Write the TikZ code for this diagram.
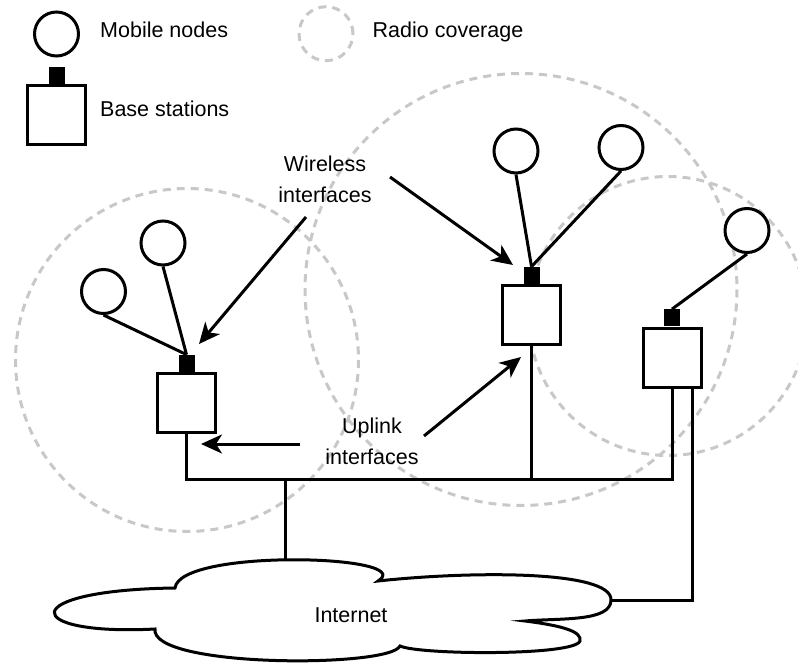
\documentclass[tikz,border=0pt]{standalone}
\usepackage{fontspec}
\setmainfont{Liberation Sans}
\usetikzlibrary{arrows.meta}
\definecolor{covgray}{RGB}{200,200,200}
\begin{document}
\begin{tikzpicture}[x=1pt,y=-1pt,
  mobile/.style={circle,draw,line width=3pt,minimum size=44pt,inner sep=0pt,fill=white},
  station/.style={rectangle,draw,line width=3pt,minimum width=58pt,minimum height=59pt,inner sep=0pt,fill=white},
  antenna/.style={rectangle,fill=black,minimum width=16pt,minimum height=17pt,inner sep=0pt},
  coverage/.style={draw=covgray,line width=3pt,dash pattern=on 8pt off 6pt},
  label/.style={inner sep=0pt,font=\fontsize{21.5}{26}\selectfont},
  pointer/.style={line width=3pt,-{Stealth[length=21pt,width=19pt,inset=6pt]}},
  wire/.style={line width=3pt},
]
\clip (0,0) rectangle (798,666);

% radio coverage areas
\draw[coverage] (187,360) circle[radius=171.5];
\draw[coverage] (521,289.5) circle[radius=216];
\draw[coverage] (668,316) circle[radius=139.5];

% legend
\node[mobile] (legmob) at (56.5,34) {};
\node[label,anchor=base west] (legmobtxt) at (100,37.7) {Mobile nodes};
\node[coverage,circle,minimum size=54pt,inner sep=0pt] (legcov) at (326,33.7) {};
\node[label,anchor=base west] (legcovtxt) at (372.5,37.5) {Radio coverage};
\node[station] (legbs) at (56.5,115.5) {};
\node[antenna,anchor=south] (legant) at (legbs.north) {};
\node[label,anchor=base west] (legbstxt) at (100,117) {Base stations};

% base stations
\node[station] (bsL) at (186.5,403) {};
\node[antenna,anchor=south] (antL) at (bsL.north) {};
\node[station] (bsM) at (531.5,315) {};
\node[antenna,anchor=south] (antM) at (bsM.north) {};
\node[station] (bsR) at (672,357.5) {};
\node[antenna,anchor=south] (antR) at (bsR.north) {};

% mobile nodes
\node[mobile] (mA) at (103.5,291.5) {};
\node[mobile] (mB) at (163,243) {};
\node[mobile] (m1) at (516,151) {};
\node[mobile] (m2) at (621,147.5) {};
\node[mobile] (m3) at (747,230.5) {};

% radio links
\draw[wire] (mA.south) -- (antL.north);
\draw[wire] (mB.south) -- (antL.north);
\draw[wire] (m1.south) -- (antM.north);
\draw[wire] (m2.south) -- (antM.north);
\draw[wire] (m3.south) -- (antR.north);

% Internet cloud
\coordinate (ctop) at (285,559);
\coordinate (cright) at (611,600);
\draw[wire,fill=white] (175,588)
  .. controls (180,548) and (420,555) .. (378,581)
  .. controls (470,571) and (612,570) .. (611,600)
  .. controls (611,622) and (560,618) .. (525,621)
  .. controls (565,626) and (582,632) .. (580,641)
  .. controls (575,656) and (420,655) .. (400,646)
  .. controls (390,668) and (150,668) .. (155,629)
  .. controls (20,636) and (15,590) .. (175,588) -- cycle;
\node[label,anchor=base] (inet) at (351,622) {Internet};

% wired uplinks
\coordinate (bus) at (400,479);
\draw[wire] (bsL.south) |- (bus) -| (bsR.south);
\draw[wire] (bsM.south) -- (bsM.south |- bus);
\draw[wire] (ctop |- bus) -- (ctop);
\draw[wire] ([xshift=20pt]bsR.south) |- (cright);

% annotations
\node[label,anchor=base] (wl1) at (325,171.7) {Wireless};
\node[label,anchor=base] (wl2) at (325,202) {interfaces};
\node[label,anchor=base] (ul1) at (372,433) {Uplink};
\node[label,anchor=base] (ul2) at (372,464) {interfaces};

\coordinate (w1s) at (306,217);
\coordinate (w1e) at (199,344);
\coordinate (w2s) at (390,177);
\coordinate (w2e) at (513,265);
\coordinate (u1s) at (300,444);
\coordinate (u1e) at (201,444);
\coordinate (u2s) at (424,436);
\coordinate (u2e) at (521,357);
\draw[pointer] (w1s) -- (w1e);
\draw[pointer] (w2s) -- (w2e);
\draw[pointer] (u1s) -- (u1e);
\draw[pointer] (u2s) -- (u2e);
\end{tikzpicture}
\end{document}
